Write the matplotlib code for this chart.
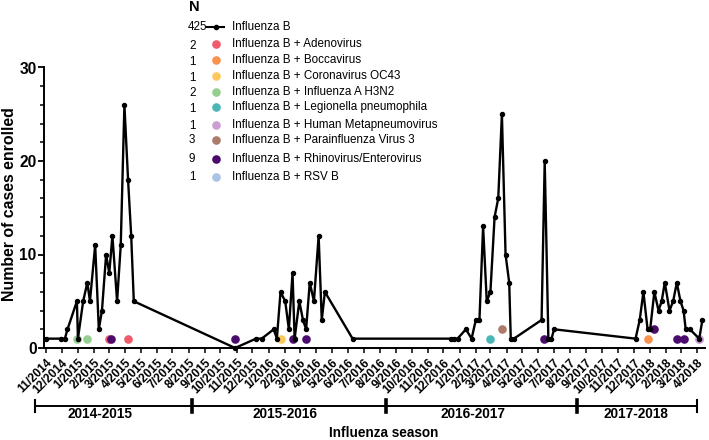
import matplotlib
matplotlib.use('Agg')
import matplotlib.pyplot as plt
import matplotlib.transforms as mtransforms
from matplotlib.ticker import MultipleLocator
from matplotlib.lines import Line2D
import pandas as pd

plt.rcParams['font.family'] = ['Liberation Sans', 'DejaVu Sans']

# ---------------- data ----------------
flu_dates = [
    '2014-11-01', '2014-11-30', '2014-12-07', '2014-12-12', '2014-12-30', '2015-01-01',
    '2015-01-11', '2015-01-19', '2015-01-24', '2015-02-03', '2015-02-10', '2015-02-16',
    '2015-02-24', '2015-03-02', '2015-03-08', '2015-03-17', '2015-03-24', '2015-03-31',
    '2015-04-07', '2015-04-13', '2015-04-18',
    '2015-10-29', '2015-12-08', '2015-12-19', '2016-01-11', '2016-01-17', '2016-01-24',
    '2016-02-02', '2016-02-09', '2016-02-16', '2016-02-20', '2016-02-29', '2016-03-07',
    '2016-03-13', '2016-03-20', '2016-03-28', '2016-04-06', '2016-04-12', '2016-04-18',
    '2016-06-10',
    '2016-12-15', '2016-12-21', '2016-12-28', '2017-01-13', '2017-01-24', '2017-02-01',
    '2017-02-08', '2017-02-15', '2017-02-22', '2017-03-01', '2017-03-09', '2017-03-16',
    '2017-03-23', '2017-03-30', '2017-04-06', '2017-04-09', '2017-04-15',
    '2017-06-07', '2017-06-13', '2017-06-20', '2017-06-26', '2017-07-01',
    '2017-12-04', '2017-12-12', '2017-12-19', '2017-12-27', '2018-01-01', '2018-01-09',
    '2018-01-17', '2018-01-23', '2018-01-29', '2018-02-07', '2018-02-14', '2018-02-21',
    '2018-02-28', '2018-03-06', '2018-03-10', '2018-03-18', '2018-04-05', '2018-04-11',
]
flu_counts = [
    1, 1, 1, 2, 5, 1,
    5, 7, 5, 11, 2, 4,
    10, 8, 12, 5, 11, 26,
    18, 12, 5,
    0, 1, 1, 2, 1, 6,
    5, 2, 8, 1, 5, 3,
    2, 7, 5, 12, 3, 6,
    1,
    1, 1, 1, 2, 1, 3,
    3, 13, 5, 6, 14, 16,
    25, 10, 7, 1, 1,
    3, 20, 1, 1, 2,
    1, 3, 6, 2, 2, 6,
    4, 5, 7, 4, 5, 7,
    5, 4, 2, 2, 1, 3,
]

coinf_labels = ['Influenza B + Adenovirus', 'Influenza B + Boccavirus',
                'Influenza B + Coronavirus OC43', 'Influenza B + Influenza A H3N2',
                'Influenza B + Legionella pneumophila', 'Influenza B + Human Metapneumovirus',
                'Influenza B + Parainfluenza Virus 3', 'Influenza B + Rhinovirus/Enterovirus',
                'Influenza B + RSV B']
coinf_n = [2, 1, 1, 2, 1, 1, 3, 9, 1]
coinf_colors = ['#ef5b6b', '#f8924c', '#fcc85c', '#94cf8f', '#4bb6b6',
                '#cb9dd3', '#ad7b69', '#4b0b6d', '#a9c3e2']

adeno_dates = ['2015-03-02', '2015-04-07']
adeno_counts = [1, 1]
bocca_dates = ['2017-12-27']
bocca_counts = [1]
corona_dates = ['2016-01-24']
corona_counts = [1]
h3n2_dates = ['2014-12-30', '2015-01-19']
h3n2_counts = [1, 1]
legion_dates = ['2017-03-01']
legion_counts = [1]
hmpv_dates = ['2018-04-05']
hmpv_counts = [1]
para_dates = ['2017-03-23']
para_counts = [2]
rhino_dates = ['2015-03-06', '2015-10-29', '2016-02-16', '2016-03-13', '2017-06-12',
               '2018-01-09', '2018-02-21', '2018-03-06']
rhino_counts = [1, 1, 1, 1, 1, 2, 1, 1]
rsv_dates = ['2018-04-05']
rsv_counts = [1]

coinf_dates = [adeno_dates, bocca_dates, corona_dates, h3n2_dates, legion_dates,
               hmpv_dates, para_dates, rhino_dates, rsv_dates]
coinf_counts = [adeno_counts, bocca_counts, corona_counts, h3n2_counts, legion_counts,
                hmpv_counts, para_counts, rhino_counts, rsv_counts]
draw_order = [8, 5, 3, 0, 2, 4, 6, 1, 7]

season_labels = ['2014-2015', '2015-2016', '2016-2017', '2017-2018']
season_bounds = ['2014-10-11', '2015-08-08', '2016-08-13', '2017-08-14', '2018-04-01']
season_label_pos = ['2015-02-12', '2016-02-01', '2017-01-27', '2017-12-05']

month_ticks = pd.date_range('2014-11-01', '2018-04-01', freq='MS')
month_labels = [f'{d.month}/{d.year}' for d in month_ticks]

# ---------------- figure ----------------
W, H = 709, 440
fig = plt.figure(figsize=(W / 100, H / 100), dpi=100)


def fx(x):
    return x / W


def fy(y):
    return 1 - y / H


ax = fig.add_axes([fx(44), fy(348), fx(705) - fx(44), fy(67.5) - fy(348)])

# co-infection dots (behind the line)
for i in draw_order:
    ax.plot(pd.to_datetime(coinf_dates[i]), coinf_counts[i], linestyle='none',
            marker='o', ms=6.2, mfc=coinf_colors[i], mec='none', zorder=2, clip_on=False)

ax.plot(pd.to_datetime(flu_dates), flu_counts, color='black', lw=1.7,
        marker='o', ms=2.9, zorder=3, clip_on=False)

ax.set_xlim(pd.Timestamp('2014-10-28'), pd.Timestamp('2018-04-16'))
ax.set_ylim(0, 30)

for s in ['top', 'right']:
    ax.spines[s].set_visible(False)
for s in ['left', 'bottom']:
    ax.spines[s].set_linewidth(1.4)

ax.yaxis.set_major_locator(MultipleLocator(10))
ax.yaxis.set_minor_locator(MultipleLocator(2))
ax.tick_params(axis='y', which='major', length=4.5, width=1.3, labelsize=11.2, pad=0.8)
ax.tick_params(axis='y', which='minor', length=2.6, width=1.1)
for t in ax.get_yticklabels():
    t.set_fontweight('bold')

ax.set_xticks(month_ticks)
ax.set_xticklabels(month_labels, rotation=45, ha='right', rotation_mode='anchor',
                   fontsize=8.6, fontweight='bold')
ax.tick_params(axis='x', which='major', length=3.8, width=1.1, pad=2.5)

fig.text(fx(9.5), fy(204.5), 'Number of cases enrolled', rotation=90, ha='center',
         va='center', fontsize=11.4, fontweight='bold')

# season brackets
btr = mtransforms.blended_transform_factory(ax.transData, fig.transFigure)
bd = pd.to_datetime(season_bounds)
yb = fy(405.7)
ax.add_line(Line2D([bd[0], bd[-1]], [yb, yb], transform=btr, color='black', lw=1.4,
                   clip_on=False))
for k, d in enumerate(bd):
    lw = 1.5 if k in (0, len(bd) - 1) else 2.6
    ax.add_line(Line2D([d, d], [fy(399.5), fy(411.5)], transform=btr, color='black',
                       lw=lw, clip_on=False))
for lab, pos in zip(season_labels, pd.to_datetime(season_label_pos)):
    ax.text(pos, fy(413.5), lab, transform=btr, ha='center', va='center',
            fontsize=9.8, fontweight='bold')

fig.text(fx(383.5), fy(433), 'Influenza season', ha='center', va='center',
         fontsize=9.8, fontweight='bold')

# legend
fig.text(fx(189), fy(7), 'N', ha='left', va='center', fontsize=10.5, fontweight='bold')
fig.text(fx(188), fy(26.7), '425', ha='left', va='center', fontsize=8.4)
fig.add_artist(Line2D([fx(207), fx(224)], [fy(26.7), fy(26.7)], color='black', lw=1.5,
                      transform=fig.transFigure))
fig.add_artist(Line2D([fx(215.5)], [fy(26.7)], color='black', marker='o', ms=3,
                      transform=fig.transFigure))
fig.text(fx(232), fy(26.7), 'Influenza B', ha='left', va='center', fontsize=8.4)

row_label_y = [44.3, 60, 75.7, 91.7, 107.3, 125, 140, 159, 176.7]
row_n_y = [46, 61.7, 77.7, 93.3, 109.3, 125.7, 140, 159, 176.7]
for i in range(len(coinf_labels)):
    fig.text(fx(189), fy(row_n_y[i]), str(coinf_n[i]), ha='left', va='center', fontsize=8.4)
    fig.add_artist(Line2D([fx(216)], [fy(row_label_y[i])], linestyle='none', marker='o',
                          ms=6.2, mfc=coinf_colors[i], mec='none',
                          transform=fig.transFigure))
    fig.text(fx(232), fy(row_label_y[i]), coinf_labels[i], ha='left', va='center',
             fontsize=8.4)

fig.savefig('out.png', dpi=100)
